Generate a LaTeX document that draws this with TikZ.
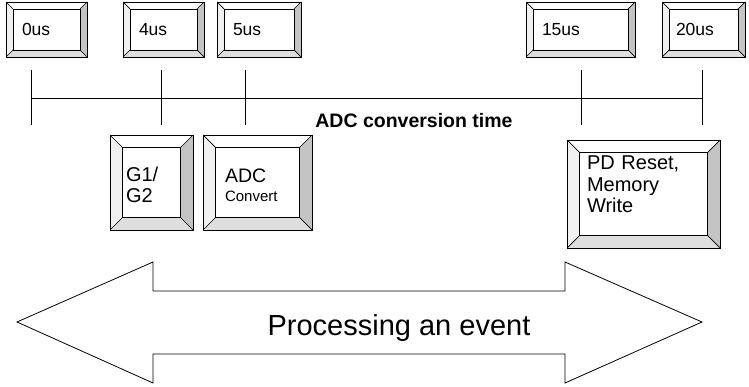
\documentclass[tikz,border=0pt]{standalone}
\usepackage{fontspec}
\setmainfont{Liberation Sans}
\usetikzlibrary{calc}
\usepackage{xcolor}
\definecolor{bevelleft}{RGB}{240,240,240}
\definecolor{bevelright}{RGB}{196,196,196}
\definecolor{bevelbottom}{RGB}{222,222,222}

% faces of a raised button, drawn inside the node
\newcommand{\bevelfaces}[1]{%
  \coordinate (osw) at (path picture bounding box.south west);
  \coordinate (one) at (path picture bounding box.north east);
  \coordinate (ose) at (path picture bounding box.south east);
  \coordinate (onw) at (path picture bounding box.north west);
  \coordinate (isw) at ($(osw)+(#1pt,#1pt)$);
  \coordinate (ine) at ($(one)+(-#1pt,-#1pt)$);
  \coordinate (ise) at ($(ose)+(-#1pt,#1pt)$);
  \coordinate (inw) at ($(onw)+(#1pt,-#1pt)$);
  \fill[bevelleft] (osw) -- (onw) -- (inw) -- (isw) -- cycle;
  \fill[bevelright] (ose) -- (one) -- (ine) -- (ise) -- cycle;
  \fill[bevelbottom] (osw) -- (ose) -- (ise) -- (isw) -- cycle;
  \draw[line width=0.7pt] (isw) rectangle (ine);
  \draw[line width=0.7pt] (osw) -- (isw) (ose) -- (ise) (one) -- (ine) (onw) -- (inw);
}
% lines of a task label, moved up or down by #1
\newcommand{\tasklines}[2]{\raisebox{#1}[\height][\depth]{\begin{tabular}{@{}l@{}}#2\end{tabular}}}

\tikzset{
  bevel/.style={draw, fill=white, line width=0.8pt, align=left, inner ysep=0pt,
    path picture={\bevelfaces{#1}}},
  stamp/.style={bevel=7, minimum height=55pt, inner xsep=16pt,
    font=\fontsize{17.5}{20}\selectfont},
  task/.style={bevel=12.5, font=\fontsize{20}{21.5}\selectfont},
}

\begin{document}
\begin{tikzpicture}[x=1pt, y=-1pt, line width=0.8pt]
\useasboundingbox (0,0) rectangle (749,387);

% time stamps
\node[stamp, text width=49pt] (t0) at (46.5,29.5) {0us};
\node[stamp, text width=49pt] (t4) at (163.5,29.5) {4us};
\node[stamp, text width=52pt] (t5) at (259,29.5) {5us};
\node[stamp, text width=77pt] (t15) at (580.5,29.5) {15us};
\node[stamp, text width=55pt, inner xsep=14pt] (t20) at (703.5,29.5) {20us};

% time line
\coordinate (k0) at (31,98);
\coordinate (k4) at (161,98);
\coordinate (k5) at (245,98);
\coordinate (k15) at (581,98);
\coordinate (k20) at (702,98);
\draw (k0) -- (k20);
\foreach \k in {k0,k4,k5,k15,k20}
  \draw ($(\k)+(0,-28)$) -- ($(\k)+(0,27)$);
\node[font=\bfseries\fontsize{19.5}{22}\selectfont, anchor=base] (convtime) at (414,128) {ADC conversion time};

% tasks
\node[task, minimum height=95pt, inner xsep=16pt, text width=51pt] (gate) at (151.5,182.5)
  {\tasklines{-5pt}{G1/\\G2}};
\node[task, minimum height=95pt, inner xsep=22pt, text width=65pt, font=\fontsize{19.5}{19}\selectfont] (adc) at (257.5,182.5)
  {\tasklines{-6pt}{ADC\\{\fontsize{15}{17}\selectfont Convert}}};
\node[task, minimum height=108pt, inner xsep=20pt, text width=113pt] (pdreset) at (643.5,194)
  {\tasklines{7pt}{PD Reset,\\Memory\\Write}};

% event span
\draw (17,322) -- (153,262) -- (153,291) -- (565,291) -- (565,262) -- (702,322)
  -- (565,383) -- (565,354) -- (153,354) -- (153,383) -- cycle;
\node[font=\fontsize{29}{32}\selectfont, anchor=base] (event) at (399,335) {Processing an event};
\end{tikzpicture}
\end{document}
